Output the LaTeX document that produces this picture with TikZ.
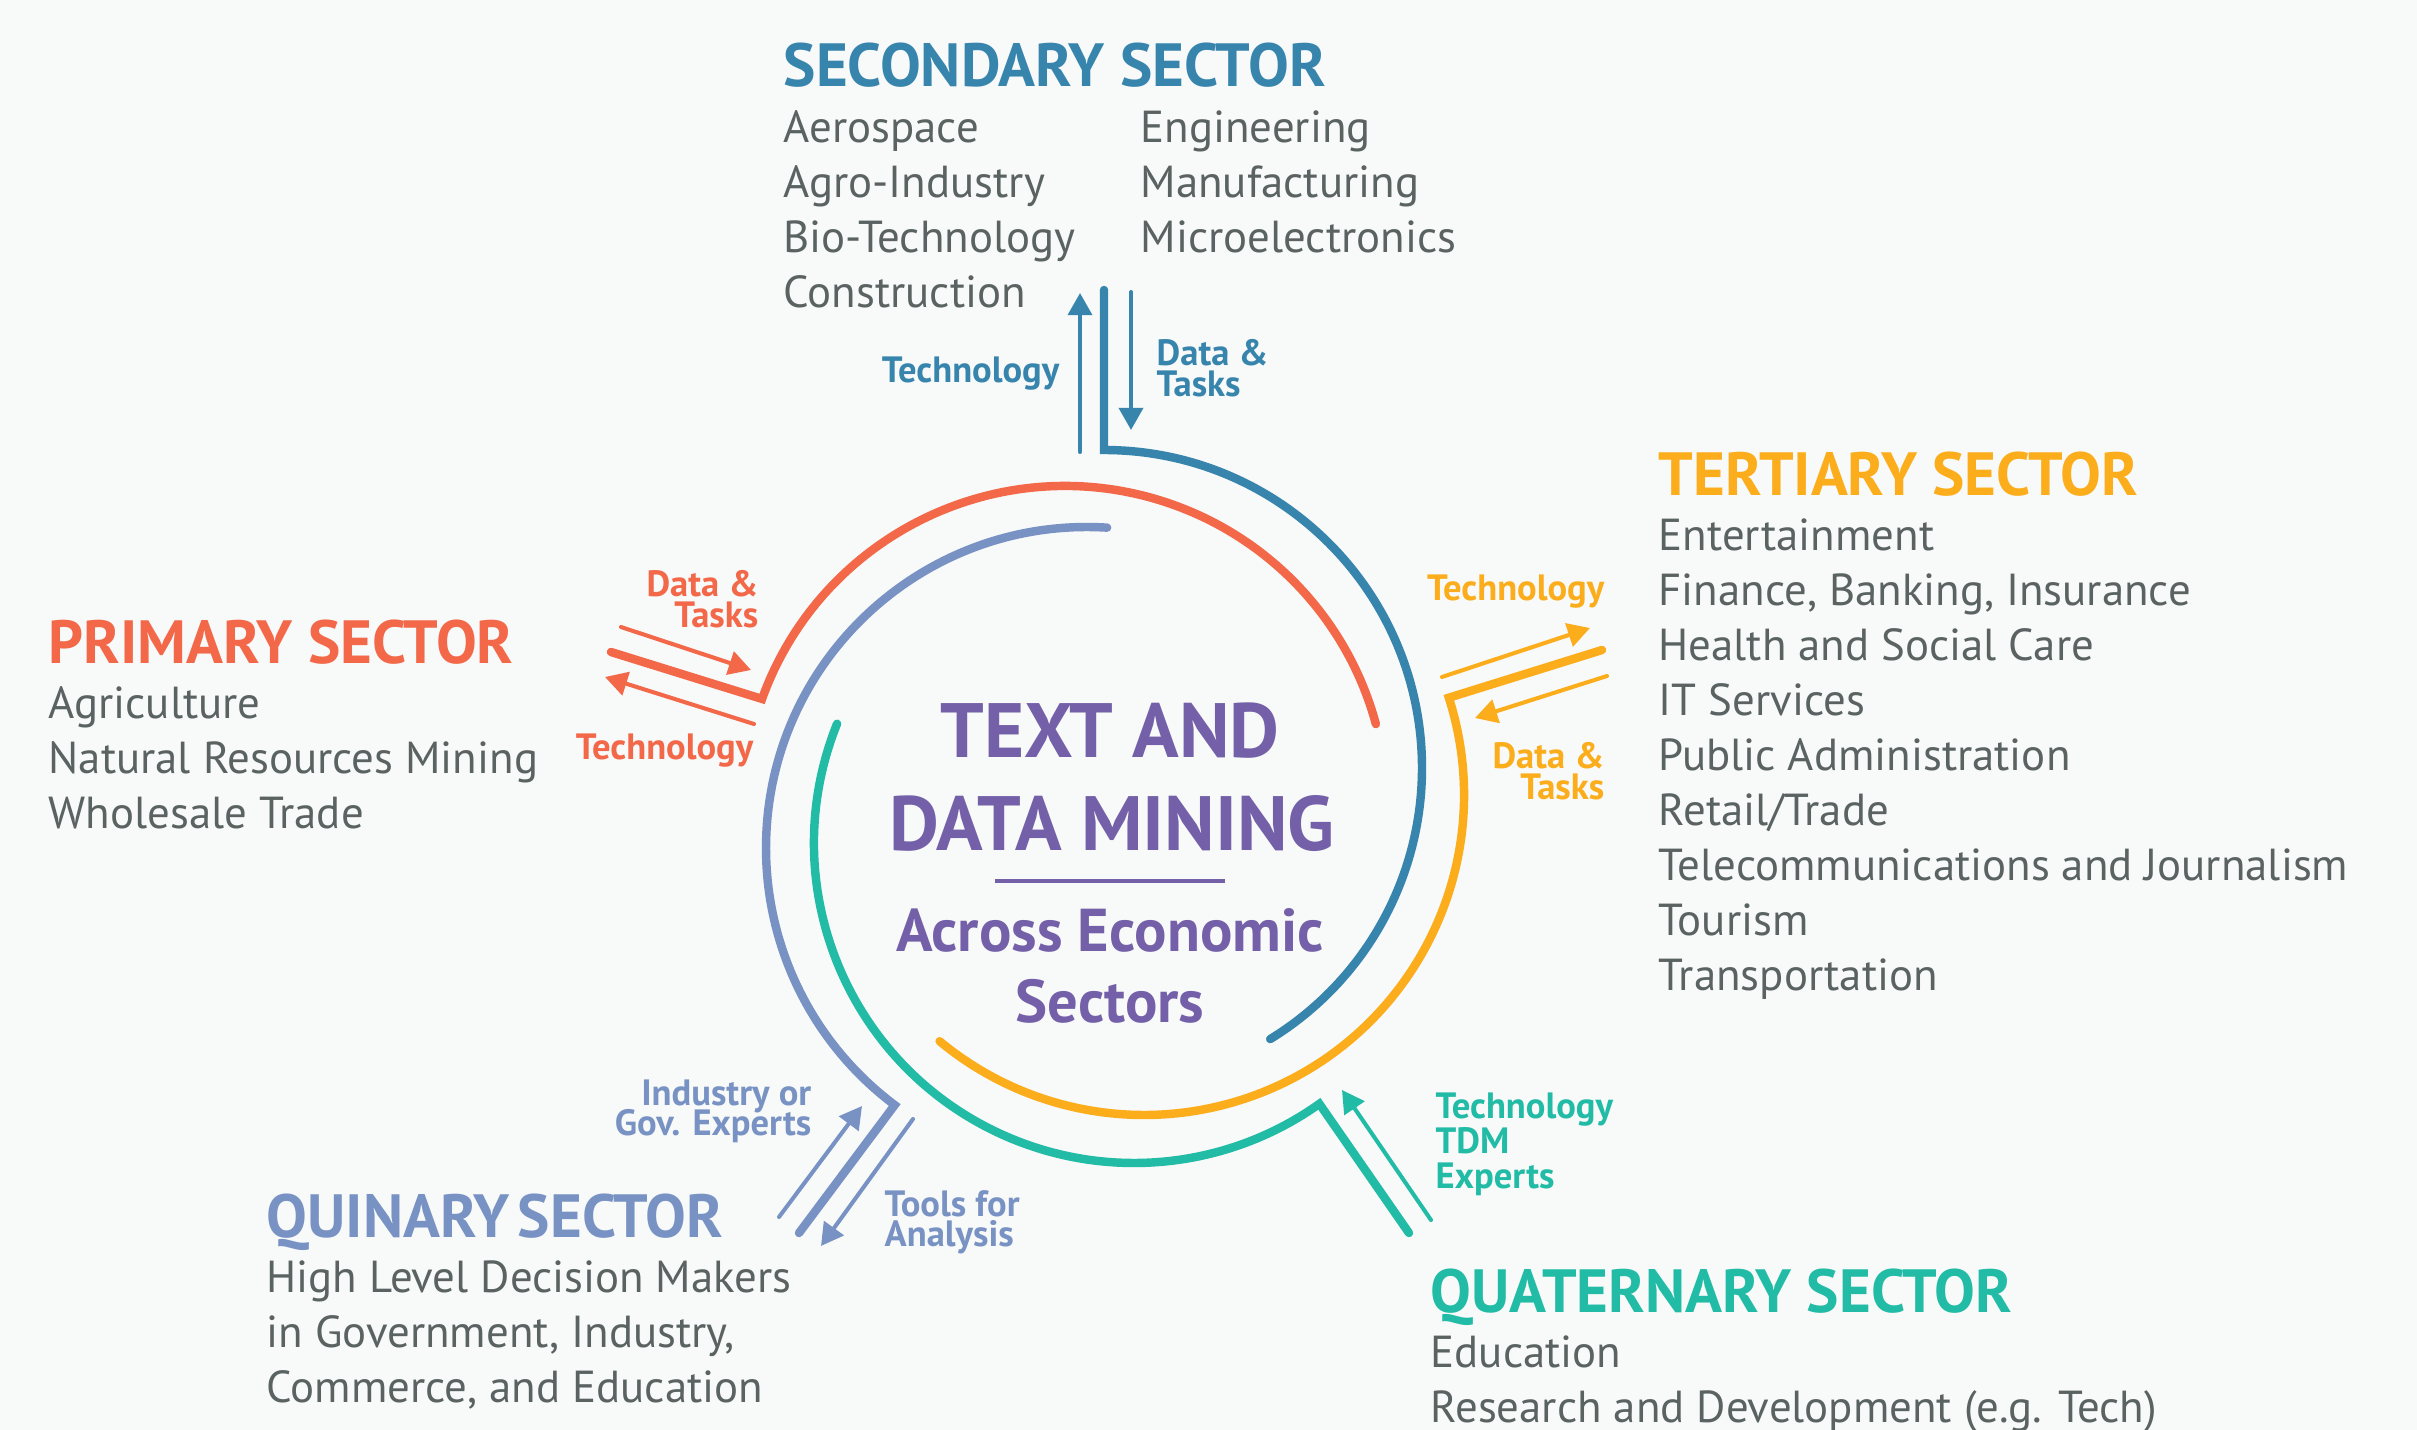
\documentclass[tikz,border=0pt]{standalone}
\usepackage{fontspec}
\setmainfont{PT Sans}
\usetikzlibrary{arrows.meta}

\definecolor{primcol}{HTML}{F26849}
\definecolor{seccol}{HTML}{3785AD}
\definecolor{tercol}{HTML}{FBAD1B}
\definecolor{quatcol}{HTML}{21BBA6}
\definecolor{quincol}{HTML}{7892C3}
\definecolor{tdmcol}{HTML}{7460A8}
\definecolor{txtgray}{HTML}{5A6362}
\definecolor{bgcol}{HTML}{F8F9F9}

\begin{document}
\setlength{\lineskiplimit}{-20pt}
\begin{tikzpicture}[x=0.01cm, y=0.01cm,
  item/.style={anchor=base west, inner sep=0pt, text=txtgray,
    font=\fontsize{12.75}{15}\selectfont},
  sectortitle/.style={anchor=base west, inner sep=0pt,
    font=\bfseries\fontsize{17.35}{20}\selectfont},
  flowlabel/.style={inner sep=0pt,
    font=\bfseries\fontsize{10.4}{8.6}\selectfont},
  ring/.style={line width=2.4pt, line cap=round},
  link/.style={line width=1.15pt, line cap=round, -{Triangle[length=6.3pt,width=6.8pt]}}]
\fill[bgcol] (0,0) rectangle (2417,-1430);
\useasboundingbox (0,0) rectangle (2417,-1430);

% centres of the rings
\coordinate (pc) at (1065,-808);
\coordinate (sc) at (1104,-768);
\coordinate (tc) at (1144,-795);
\coordinate (qc) at (1134,-843);
\coordinate (kc) at (1087,-848);

% rings
\draw[ring, seccol] (1104,-290) -- ([shift={(90:318)}]sc) arc[start angle=90, end angle=-58.5, radius=318];
\draw[ring, primcol] (611,-652) -- ([shift={(160.2:322)}]pc) arc[start angle=160.2, end angle=15.1, radius=322];
\draw[ring, tercol] (1602,-650) -- ([shift={(17.7:320)}]tc) arc[start angle=17.7, end angle=-129.7, radius=320];
\draw[ring, quatcol] ([shift={(158.1:320)}]qc) arc[start angle=158.1, end angle=305.4, radius=320] -- (1409,-1233);
\draw[ring, quincol] ([shift={(86.4:321)}]kc) arc[start angle=86.4, end angle=233.2, radius=321] -- (799,-1233);

% flow arrows
\coordinate (s1a) at (1080,-452); \coordinate (s1b) at (1080,-293);
\coordinate (s2a) at (1131,-292); \coordinate (s2b) at (1131,-430);
\coordinate (p1a) at (621,-627);  \coordinate (p1b) at (751,-670);
\coordinate (p2a) at (754,-724);  \coordinate (p2b) at (605,-677);
\coordinate (t1a) at (1442,-677); \coordinate (t1b) at (1590,-628);
\coordinate (t2a) at (1607,-676); \coordinate (t2b) at (1475,-718);
\coordinate (k1a) at (779,-1217); \coordinate (k1b) at (862,-1106);
\coordinate (k2a) at (913,-1119); \coordinate (k2b) at (821,-1246);
\coordinate (q1a) at (1431,-1220); \coordinate (q1b) at (1342,-1090);
\draw[link, seccol] (s1a) -- (s1b);
\draw[link, seccol] (s2a) -- (s2b);
\draw[link, primcol] (p1a) -- (p1b);
\draw[link, primcol] (p2a) -- (p2b);
\draw[link, tercol] (t1a) -- (t1b);
\draw[link, tercol] (t2a) -- (t2b);
\draw[link, quincol] (k1a) -- (k1b);
\draw[link, quincol] (k2a) -- (k2b);
\draw[link, quatcol] (q1a) -- (q1b);

% arrow labels
\node[flowlabel, seccol, anchor=base east] (stech) at (1060,-382) {Technology};
\node[flowlabel, seccol, anchor=north west, align=left] (sdata) at (1156,-339) {Data \&\\Tasks};
\node[flowlabel, primcol, anchor=north east, align=right] (pdata) at (759,-570) {Data \&\\Tasks};
\node[flowlabel, primcol, anchor=base east] (ptech) at (754,-759) {Technology};
\node[flowlabel, tercol, anchor=base east] (ttech) at (1605,-600) {Technology};
\node[flowlabel, tercol, anchor=north east, align=right] (tdata) at (1605,-742) {Data \&\\Tasks};
\node[flowlabel, quincol, anchor=north east, align=right] (kexp) at (812,-1079) {Industry or\\Gov. Experts};
\node[flowlabel, quincol, anchor=north west, align=left] (ktool) at (884,-1190) {Tools for\\Analysis};
\node[flowlabel, quatcol, anchor=north west, align=left,
  font=\bfseries\fontsize{10.4}{10}\selectfont] (qtech) at (1435,-1092) {Technology\\TDM\\Experts};

% centre
\node[anchor=base, inner sep=0pt, text=tdmcol, font=\bfseries\fontsize{21.9}{24}\selectfont] (tdm1) at (1110,-757) {TEXT AND};
\node[anchor=base, inner sep=0pt, text=tdmcol, font=\bfseries\fontsize{21.9}{24}\selectfont] (tdm2) at (1112,-850) {DATA MINING};
\draw[tdmcol, line width=1.4pt] (995,-881) -- (1225,-881);
\node[anchor=base, inner sep=0pt, text=tdmcol, font=\bfseries\fontsize{17.2}{20}\selectfont] (tdm3) at (1110,-951) {Across Economic};
\node[anchor=base, inner sep=0pt, text=tdmcol, font=\bfseries\fontsize{17.2}{20}\selectfont] (tdm4) at (1110,-1022) {Sectors};

% sectors
\node[sectortitle, text=primcol] (prim) at (48,-663) {PRIMARY SECTOR};
\foreach \t [count=\i] in {Agriculture, Natural Resources Mining, Wholesale Trade}
  \node[item] (prim\i) at (48,-663-55*\i) {\t};

\node[sectortitle, text=seccol] (sec) at (783,-87) {SECONDARY SECTOR};
\foreach \t [count=\i] in {Aerospace, Agro-Industry, Bio-Technology, Construction}
  \node[item] (seca\i) at (783,-87-55*\i) {\t};
\foreach \t [count=\i] in {Engineering, Manufacturing, Microelectronics}
  \node[item] (secb\i) at (1140,-87-55*\i) {\t};

\node[sectortitle, text=tercol] (ter) at (1658,-495) {TERTIARY SECTOR};
\foreach \t [count=\i] in {Entertainment, {Finance, Banking, Insurance}, Health and Social Care,
    IT Services, Public Administration, Retail/Trade, Telecommunications and Journalism,
    Tourism, Transportation}
  \node[item] (ter\i) at (1658,-495-55*\i) {\t};

\node[sectortitle, text=quatcol] (quat) at (1430,-1312) {QUATERNARY SECTOR};
\foreach \t [count=\i] in {Education, Research and Development (e.g. Tech)}
  \node[item] (quat\i) at (1430,-1312-55*\i) {\t};

\node[sectortitle, text=quincol] (quin) at (266,-1237) {QUINARY\hspace{0.14em}SECTOR};
\foreach \t [count=\i] in {High Level Decision Makers, {in Government, Industry,}, {Commerce, and Education}}
  \node[item] (quin\i) at (266,-1237-55*\i) {\t};
\end{tikzpicture}
\end{document}
